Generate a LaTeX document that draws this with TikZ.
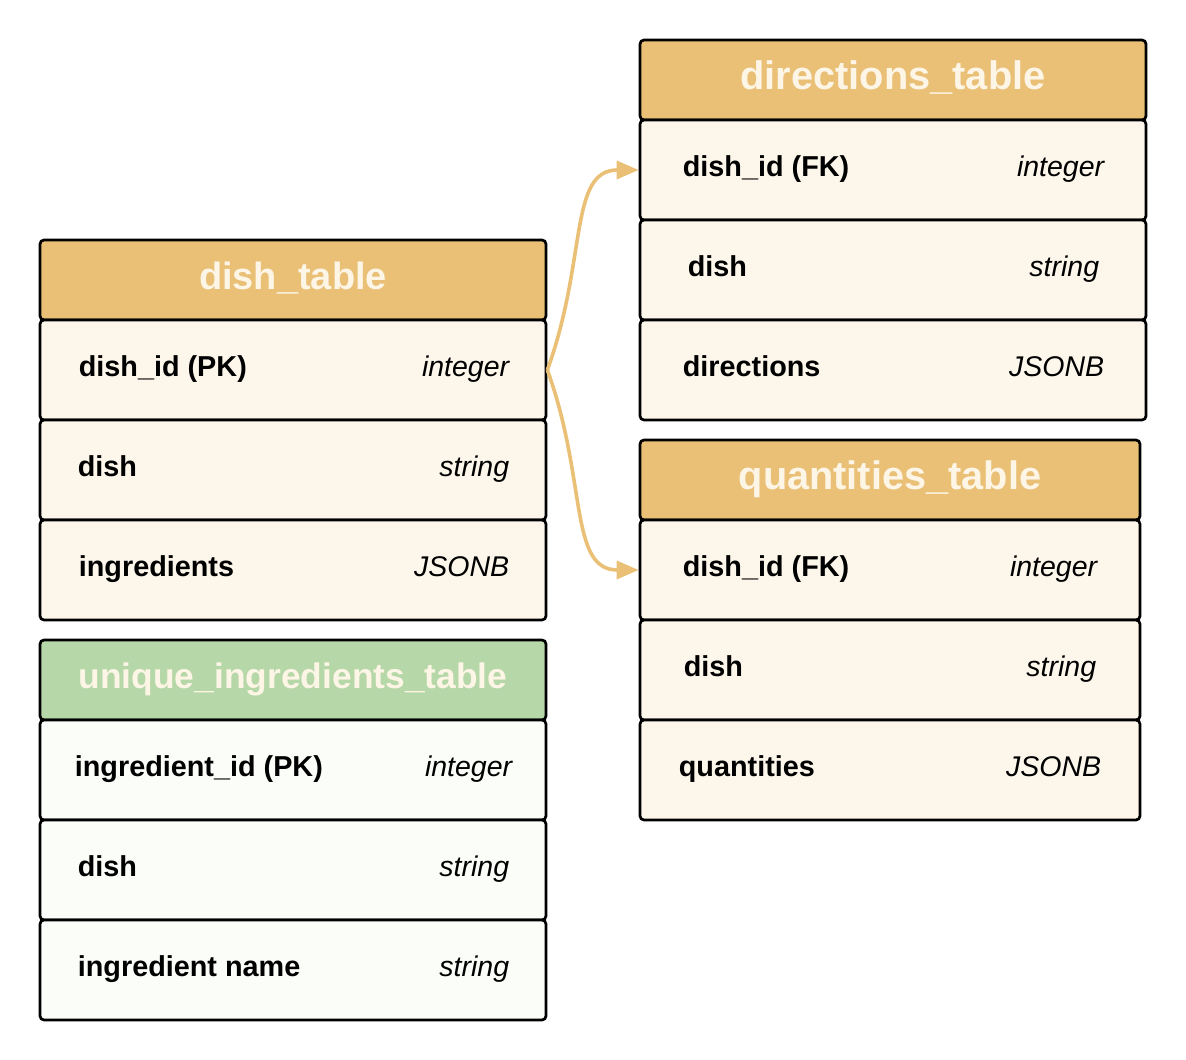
\documentclass[tikz,border=0pt]{standalone}
\usepackage{fontspec}
\setmainfont{Liberation Sans}
\usetikzlibrary{calc,positioning,arrows.meta}
\definecolor{headorange}{HTML}{EAC077}
\definecolor{roworange}{HTML}{FDF6EB}
\definecolor{headgreen}{HTML}{B6D7A8}
\definecolor{rowgreen}{HTML}{FBFDF8}
\definecolor{headtext}{HTML}{FDF5E6}
\newcommand{\Wide}{506}
\tikzset{Head/.style={
    rectangle,
    rounded corners=4,
    draw=black,
    line width=2.7,
    minimum width=\Wide,
    minimum height=80,
    fill=headorange,
    inner sep=0pt,
    },
  Field/.style={
    rectangle,
    rounded corners=4,
    draw=black,
    line width=2.7,
    minimum width=\Wide,
    minimum height=100,
    fill=roworange,
    inner sep=0pt,
    },
  Title/.style={anchor=base, inner sep=0pt, text=headtext,
    font=\fontsize{#1}{44}\selectfont\bfseries},
  Title/.default=38,
  Name/.style={anchor=base west, inner sep=0pt,
    font=\fontsize{28.8}{34}\selectfont\bfseries},
  Type/.style={anchor=base east, inner sep=0pt,
    font=\fontsize{28.5}{34}\selectfont\itshape},
  Link/.style={draw=headorange, line width=3.6,
    -{Triangle[length=22,width=18]}},
}

\begin{document}
\begin{tikzpicture}[x=1pt,y=-1pt]
\useasboundingbox (0,0) rectangle (1186,1060);

% dish_table
\node [Head] (dish-head) at (293,280) {};
\node [Title] (dish-title) at ($(dish-head.center)+(0,9)$) {dish\_table};
\node [Field] (dish-id) at (293,370) {};
\node [Name] (dish-id-name) at ($(dish-id.west)+(40,6)$) {dish\_id (PK)};
\node [Type] (dish-id-type) at ($(dish-id.east)+(-38,6)$) {integer};
\node [Field] (dish-dish) at (293,470) {};
\node [Name] (dish-dish-name) at ($(dish-dish.west)+(39,6)$) {dish};
\node [Type] (dish-dish-type) at ($(dish-dish.east)+(-38,6)$) {string};
\node [Field] (dish-ingr) at (293,570) {};
\node [Name] (dish-ingr-name) at ($(dish-ingr.west)+(40,6)$) {ingredients};
\node [Type] (dish-ingr-type) at ($(dish-ingr.east)+(-38,6)$) {JSONB};

% unique_ingredients_table
\node [Head,fill=headgreen] (uniq-head) at (293,680) {};
\node [Title=35.4] (uniq-title) at ($(uniq-head.center)+(0,8)$) {unique\_ingredients\_table};
\node [Field,fill=rowgreen] (uniq-id) at (293,770) {};
\node [Name] (uniq-id-name) at ($(uniq-id.west)+(36,6)$) {ingredient\_id (PK)};
\node [Type] (uniq-id-type) at ($(uniq-id.east)+(-35,6)$) {integer};
\node [Field,fill=rowgreen] (uniq-dish) at (293,870) {};
\node [Name] (uniq-dish-name) at ($(uniq-dish.west)+(39,6)$) {dish};
\node [Type] (uniq-dish-type) at ($(uniq-dish.east)+(-38,6)$) {string};
\node [Field,fill=rowgreen] (uniq-name) at (293,970) {};
\node [Name] (uniq-name-name) at ($(uniq-name.west)+(39,6)$) {ingredient name};
\node [Type] (uniq-name-type) at ($(uniq-name.east)+(-38,6)$) {string};

% directions_table
\node [Head] (dir-head) at (893,80) {};
\node [Title=39.8] (dir-title) at ($(dir-head.center)+(0,9)$) {directions\_table};
\node [Field] (dir-id) at (893,170) {};
\node [Name] (dir-id-name) at ($(dir-id.west)+(44,6)$) {dish\_id (FK)};
\node [Type] (dir-id-type) at ($(dir-id.east)+(-43,6)$) {integer};
\node [Field] (dir-dish) at (893,270) {};
\node [Name] (dir-dish-name) at ($(dir-dish.west)+(49,6)$) {dish};
\node [Type] (dir-dish-type) at ($(dir-dish.east)+(-48,6)$) {string};
\node [Field] (dir-text) at (893,370) {};
\node [Name] (dir-text-name) at ($(dir-text.west)+(44,6)$) {directions};
\node [Type] (dir-text-type) at ($(dir-text.east)+(-43,6)$) {JSONB};

% quantities_table
\node [Head,minimum width=500] (qty-head) at (890,480) {};
\node [Title=39.7] (qty-title) at ($(qty-head.center)+(0,9)$) {quantities\_table};
\node [Field,minimum width=500] (qty-id) at (890,570) {};
\node [Name] (qty-id-name) at ($(qty-id.west)+(44,6)$) {dish\_id (FK)};
\node [Type] (qty-id-type) at ($(qty-id.east)+(-44,6)$) {integer};
\node [Field,minimum width=500] (qty-dish) at (890,670) {};
\node [Name] (qty-dish-name) at ($(qty-dish.west)+(45,6)$) {dish};
\node [Type] (qty-dish-type) at ($(qty-dish.east)+(-45,6)$) {string};
\node [Field,minimum width=500] (qty-amt) at (890,770) {};
\node [Name] (qty-amt-name) at ($(qty-amt.west)+(40,6)$) {quantities};
\node [Type] (qty-amt-type) at ($(qty-amt.east)+(-40,6)$) {JSONB};

% foreign keys
\draw [Link] (dish-id.east) .. controls +(40,-110) and +(-70,0) .. (dir-id.west);
\draw [Link] (dish-id.east) .. controls +(40,110) and +(-70,0) .. (qty-id.west);
\end{tikzpicture}
\end{document}
